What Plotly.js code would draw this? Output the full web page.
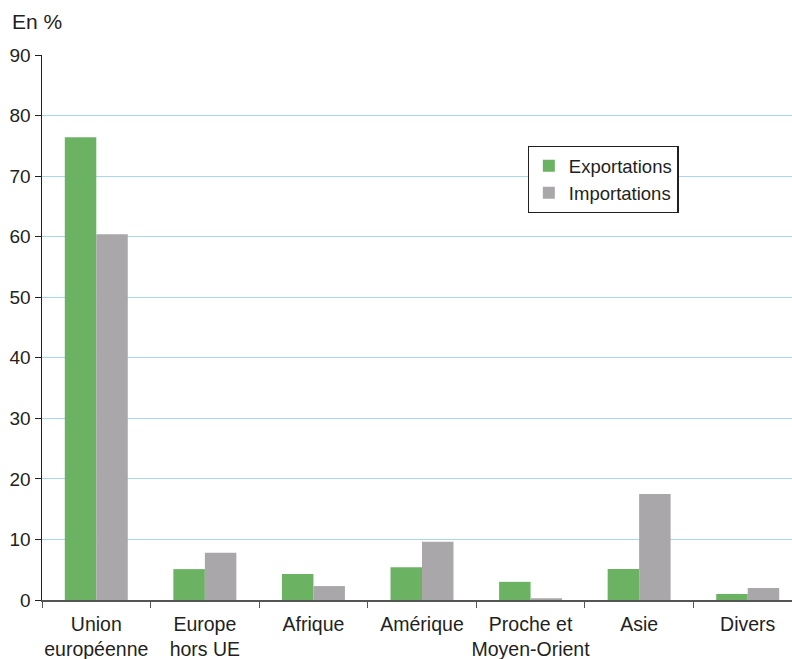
<!DOCTYPE html>
<html><head><meta charset="utf-8">
<script src="https://cdn.plot.ly/plotly-3.0.1.min.js"></script>
<style>html,body{margin:0;padding:0;overflow:hidden;background:#fff}</style>
</head><body><div id="chart"></div>
<script>
const categories = ["Union<br>européenne", "Europe<br>hors UE", "Afrique", "Amérique", "Proche et<br>Moyen-Orient", "Asie", "Divers"];
const exportations = [76.4, 5.1, 4.3, 5.4, 3.0, 5.1, 1.0];
const importations = [60.4, 7.8, 2.3, 9.6, 0.3, 17.5, 2.0];
const yTicks = [0, 10, 20, 30, 40, 50, 60, 70, 80, 90];

const font = {family: "Liberation Sans, Arial, sans-serif", color: "#231f20"};
const data = [
  {type: "bar", name: "Exportations", x: categories, y: exportations, marker: {color: "#6cb263"}},
  {type: "bar", name: "Importations", x: categories, y: importations, marker: {color: "#a9a7a9"}}
];
const layout = {
  width: 803, height: 659,
  margin: {l: 42, r: 1, t: 55, b: 59},
  paper_bgcolor: "#fff", plot_bgcolor: "#fff",
  font: Object.assign({size: 18}, font),
  barmode: "group", bargap: 0.42, bargroupgap: 0,
  showlegend: true,
  legend: {x: 0.639, y: 0.833, xanchor: "left", yanchor: "top", bordercolor: "#231f20", borderwidth: 1.2,
           bgcolor: "#fff", font: Object.assign({size: 18.5}, font), tracegroupgap: 0, itemwidth: 30},
  xaxis: {type: "category", tickson: "boundaries", ticks: "outside", ticklen: 6, tickcolor: "#555",
          tickangle: 0, ticklabelstandoff: 6,
          showline: true, linecolor: "#555", linewidth: 1.5, showgrid: false,
          tickfont: Object.assign({size: 19.5}, font), automargin: false},
  yaxis: {range: [0, 90], tickvals: yTicks, ticks: "outside", ticklen: 6, tickcolor: "#231f20",
          showline: true, linecolor: "#231f20", linewidth: 1.5, zeroline: false,
          showgrid: true, gridcolor: "#a8d8ee", gridwidth: 1,
          tickfont: Object.assign({size: 19}, font), automargin: false},
  annotations: [{text: "En %", xref: "paper", yref: "paper", x: -0.042, y: 1.0606, xanchor: "left", yanchor: "middle",
                 showarrow: false, font: Object.assign({size: 21}, font)}]
};
Plotly.newPlot("chart", data, layout, {displayModeBar: false, staticPlot: true});
</script></body></html>
